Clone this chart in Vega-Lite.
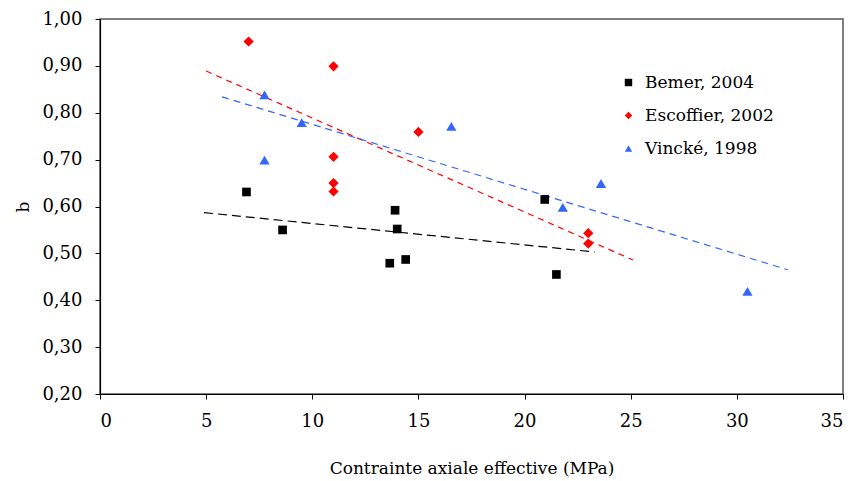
{
  "$schema": "https://vega.github.io/schema/vega-lite/v6.json",
  "width": 743,
  "height": 375,
  "autosize": {"type": "none"},
  "padding": {"left": 100, "top": 19, "right": 15, "bottom": 87},
  "background": "white",
  "config": {
    "view": {"stroke": "#555555", "strokeWidth": 1.5},
    "font": "DejaVu Serif",
    "axis": {
      "grid": false,
      "domainColor": "#000000",
      "domainWidth": 1.2,
      "tickColor": "#000000",
      "tickSize": 5,
      "labelFont": "DejaVu Serif",
      "labelFontSize": 18,
      "labelColor": "#000000",
      "titleFont": "DejaVu Serif",
      "titleFontSize": 17,
      "titleFontWeight": "normal",
      "titleColor": "#000000"
    }
  },
  "datasets": {
    "points": [
      {"series": "Bemer, 2004", "x": 6.9, "y": 0.631},
      {"series": "Bemer, 2004", "x": 8.6, "y": 0.550},
      {"series": "Bemer, 2004", "x": 13.65, "y": 0.479},
      {"series": "Bemer, 2004", "x": 13.9, "y": 0.592},
      {"series": "Bemer, 2004", "x": 14.0, "y": 0.552},
      {"series": "Bemer, 2004", "x": 14.4, "y": 0.487},
      {"series": "Bemer, 2004", "x": 20.95, "y": 0.615},
      {"series": "Bemer, 2004", "x": 21.5, "y": 0.455},
      {"series": "Escoffier, 2002", "x": 7.0, "y": 0.952},
      {"series": "Escoffier, 2002", "x": 11.0, "y": 0.899},
      {"series": "Escoffier, 2002", "x": 11.0, "y": 0.706},
      {"series": "Escoffier, 2002", "x": 11.0, "y": 0.650},
      {"series": "Escoffier, 2002", "x": 11.0, "y": 0.632},
      {"series": "Escoffier, 2002", "x": 15.0, "y": 0.759},
      {"series": "Escoffier, 2002", "x": 23.0, "y": 0.543},
      {"series": "Escoffier, 2002", "x": 23.0, "y": 0.521},
      {"series": "Vincké, 1998", "x": 7.75, "y": 0.838},
      {"series": "Vincké, 1998", "x": 7.75, "y": 0.699},
      {"series": "Vincké, 1998", "x": 9.5, "y": 0.779},
      {"series": "Vincké, 1998", "x": 16.55, "y": 0.771},
      {"series": "Vincké, 1998", "x": 21.8, "y": 0.598},
      {"series": "Vincké, 1998", "x": 23.6, "y": 0.649},
      {"series": "Vincké, 1998", "x": 30.5, "y": 0.419}
    ],
    "trends": [
      {"series": "Bemer, 2004", "x": 4.9, "y": 0.587},
      {"series": "Bemer, 2004", "x": 23.3, "y": 0.503},
      {"series": "Escoffier, 2002", "x": 5.0, "y": 0.889},
      {"series": "Escoffier, 2002", "x": 25.1, "y": 0.486},
      {"series": "Vincké, 1998", "x": 5.75, "y": 0.834},
      {"series": "Vincké, 1998", "x": 32.4, "y": 0.465}
    ]
  },
  "layer": [
    {
      "data": {"name": "trends"},
      "transform": [{"filter": "datum.series === 'Bemer, 2004'"}],
      "mark": {"type": "line", "strokeWidth": 1.2, "color": "#000000", "strokeDash": [9, 5]},
      "encoding": {
        "x": {"field": "x", "type": "quantitative"},
        "y": {"field": "y", "type": "quantitative"}
      }
    },
    {
      "data": {"name": "trends"},
      "transform": [{"filter": "datum.series === 'Escoffier, 2002'"}],
      "mark": {"type": "line", "strokeWidth": 1.2, "color": "#ff0000", "strokeDash": [6, 5]},
      "encoding": {
        "x": {"field": "x", "type": "quantitative"},
        "y": {"field": "y", "type": "quantitative"}
      }
    },
    {
      "data": {"name": "trends"},
      "transform": [{"filter": "datum.series === 'Vincké, 1998'"}],
      "mark": {"type": "line", "strokeWidth": 1.2, "color": "#3366ff", "strokeDash": [7, 5]},
      "encoding": {
        "x": {"field": "x", "type": "quantitative"},
        "y": {"field": "y", "type": "quantitative"}
      }
    },
    {
      "data": {"name": "points"},
      "transform": [{"filter": "datum.series === 'Bemer, 2004'"}],
      "mark": {"type": "point", "filled": true, "opacity": 1, "size": 75},
      "encoding": {
        "x": {
          "field": "x", "type": "quantitative",
          "scale": {"domain": [0, 35], "nice": false, "zero": false},
          "axis": {"values": [0, 5, 10, 15, 20, 25, 30, 35], "title": "Contrainte axiale effective (MPa)", "labelPadding": 13, "titlePadding": 30}
        },
        "y": {
          "field": "y", "type": "quantitative",
          "scale": {"domain": [0.2, 1.0], "nice": false, "zero": false},
          "axis": {"values": [0.2, 0.3, 0.4, 0.5, 0.6, 0.7, 0.8, 0.9, 1.0], "labelExpr": "replace(format(datum.value, '.2f'), '.', ',')", "title": "b", "labelPadding": 13, "titlePadding": 9}
        },
        "color": {
          "field": "series", "type": "nominal",
          "scale": {"domain": ["Bemer, 2004", "Escoffier, 2002", "Vincké, 1998"], "range": ["#000000", "#ff0000", "#3366ff"]},
          "legend": {
            "title": null, "orient": "none", "legendX": 520, "legendY": 55,
            "labelFont": "DejaVu Serif", "labelFontSize": 17, "labelColor": "#000000",
            "symbolSize": 55, "labelOffset": 8, "rowPadding": 15, "padding": 0
          }
        },
        "shape": {
          "field": "series", "type": "nominal",
          "scale": {"domain": ["Bemer, 2004", "Escoffier, 2002", "Vincké, 1998"], "range": ["square", "diamond", "triangle-up"]}
        }
      }
    },
    {
      "data": {"name": "points"},
      "transform": [{"filter": "datum.series !== 'Bemer, 2004'"}],
      "mark": {"type": "point", "filled": true, "opacity": 1, "size": 105},
      "encoding": {
        "x": {"field": "x", "type": "quantitative"},
        "y": {"field": "y", "type": "quantitative"},
        "color": {"field": "series", "type": "nominal"},
        "shape": {"field": "series", "type": "nominal"}
      }
    }
  ]
}
